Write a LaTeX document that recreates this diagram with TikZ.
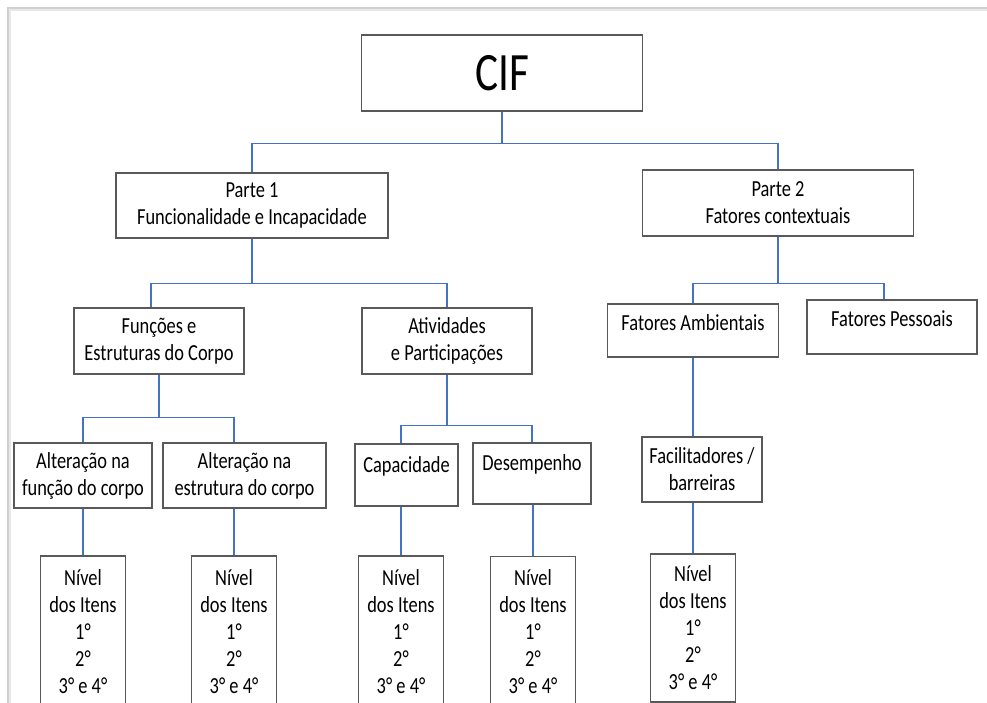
\documentclass[tikz,border=0pt]{standalone}
\usepackage{fontspec}
\setmainfont{Carlito}[FakeStretch=0.8]
\usetikzlibrary{calc,backgrounds}
\definecolor{connblue}{HTML}{4472C4}
\definecolor{boxline}{HTML}{595959}
\definecolor{frameA}{HTML}{D0D0D0}
\definecolor{frameB}{HTML}{E8E8E8}
\begin{document}
\begin{tikzpicture}[x=1pt,y=-1pt,
  box/.style={draw=boxline, line width=1.5pt, inner sep=0pt, align=center, fill=white,
    font=\fontsize{23}{27}\selectfont},
  link/.style={draw=connblue, line width=1.3pt},
  topline/.style={text height=16pt, text depth=#1}
  ]
\useasboundingbox (0,0) rectangle (987,703);
\clip (0,0) rectangle (987,703);

\node[box, minimum width=281pt, minimum height=76pt, font=\fontsize{54}{60}\selectfont] (cif) at (502,73) {CIF};

\node[box, minimum width=272pt, minimum height=65pt] (p1) at (252,205.5) {Parte 1\\Funcionalidade e Incapacidade};
\node[box, minimum width=271pt, minimum height=66pt] (p2) at (778,203) {Parte 2\\Fatores contextuais};

\node[box, minimum width=170pt, minimum height=66pt] (fe) at (159,341) {Funções e\\Estruturas do Corpo};
\node[box, minimum width=170pt, minimum height=66pt] (ap) at (447,341) {Atividades\\e Participações};
\node[box, minimum width=171pt, minimum height=53pt, topline=17pt] (fa) at (693,330.5) {Fatores Ambientais};
\node[box, minimum width=170pt, minimum height=54pt, topline=18pt] (fp) at (892,327) {Fatores Pessoais};

\node[box, minimum width=138pt, minimum height=65pt] (af) at (83,475.5) {Alteração na\\função do corpo};
\node[box, minimum width=163pt, minimum height=65pt] (ae) at (244.5,475.5) {Alteração na\\estrutura do corpo};
\node[box, minimum width=103pt, minimum height=62pt, topline=22pt] (cap) at (406.5,475) {Capacidade};
\node[box, minimum width=118pt, minimum height=61pt, topline=23pt] (des) at (532,473.5) {Desempenho};
\node[box, minimum width=120pt, minimum height=65pt] (fb) at (702,469.5) {Facilitadores /\\barreiras};

\node[box, minimum width=85pt, minimum height=151pt] (n1) at (83,631.5) {Nível\\dos Itens\\1°\\2°\\3° e 4°};
\node[box, minimum width=85pt, minimum height=151pt] (n2) at (234,631.5) {Nível\\dos Itens\\1°\\2°\\3° e 4°};
\node[box, minimum width=85pt, minimum height=151pt] (n3) at (401,631.5) {Nível\\dos Itens\\1°\\2°\\3° e 4°};
\node[box, minimum width=85pt, minimum height=151pt] (n4) at (533,632) {Nível\\dos Itens\\1°\\2°\\3° e 4°};
\node[box, minimum width=85pt, minimum height=148pt] (n5) at (693,628) {Nível\\dos Itens\\1°\\2°\\3° e 4°};

\begin{pgfonlayer}{background}
\fill[white] (0,0) rectangle (987,703);
\draw[frameA, line width=2pt] (8,703) -- (8,8) -- (987,8);
\draw[frameB, line width=2pt] (10,703) -- (10,10) -- (987,10);

\draw[link] (cif.south) -- ++(0,32) coordinate (b0);
\draw[link] (p1.north) |- (b0) -| (p2.north);

\draw[link] (p1.south) -- ++(0,45) coordinate (b1);
\draw[link] ([xshift=-8pt]fe.north) |- (b1) -| (ap.north);

\draw[link] (p2.south) -- ++(0,47) coordinate (b2);
\draw[link] (fa.north) |- (b2) -| ([xshift=-8pt]fp.north);

\draw[link] (fe.south) -- ++(0,43) coordinate (b3);
\draw[link] (af.north) |- (b3) -| (n2.north |- ae.north);

\draw[link] (ap.south) -- ++(0,51) coordinate (b4);
\draw[link] (n3.north |- cap.north) |- (b4) -| (des.north);

\draw[link] (n1.north |- af.south) -- (n1.north);
\draw[link] (n2.north |- ae.south) -- (n2.north);
\draw[link] (n3.north |- cap.south) -- (n3.north);
\draw[link] (n4.north |- des.south) -- (n4.north);
\draw[link] (fa.south) -- (fa.south |- fb.north);
\draw[link] (n5.north |- fb.south) -- (n5.north);
\end{pgfonlayer}
\end{tikzpicture}
\end{document}
